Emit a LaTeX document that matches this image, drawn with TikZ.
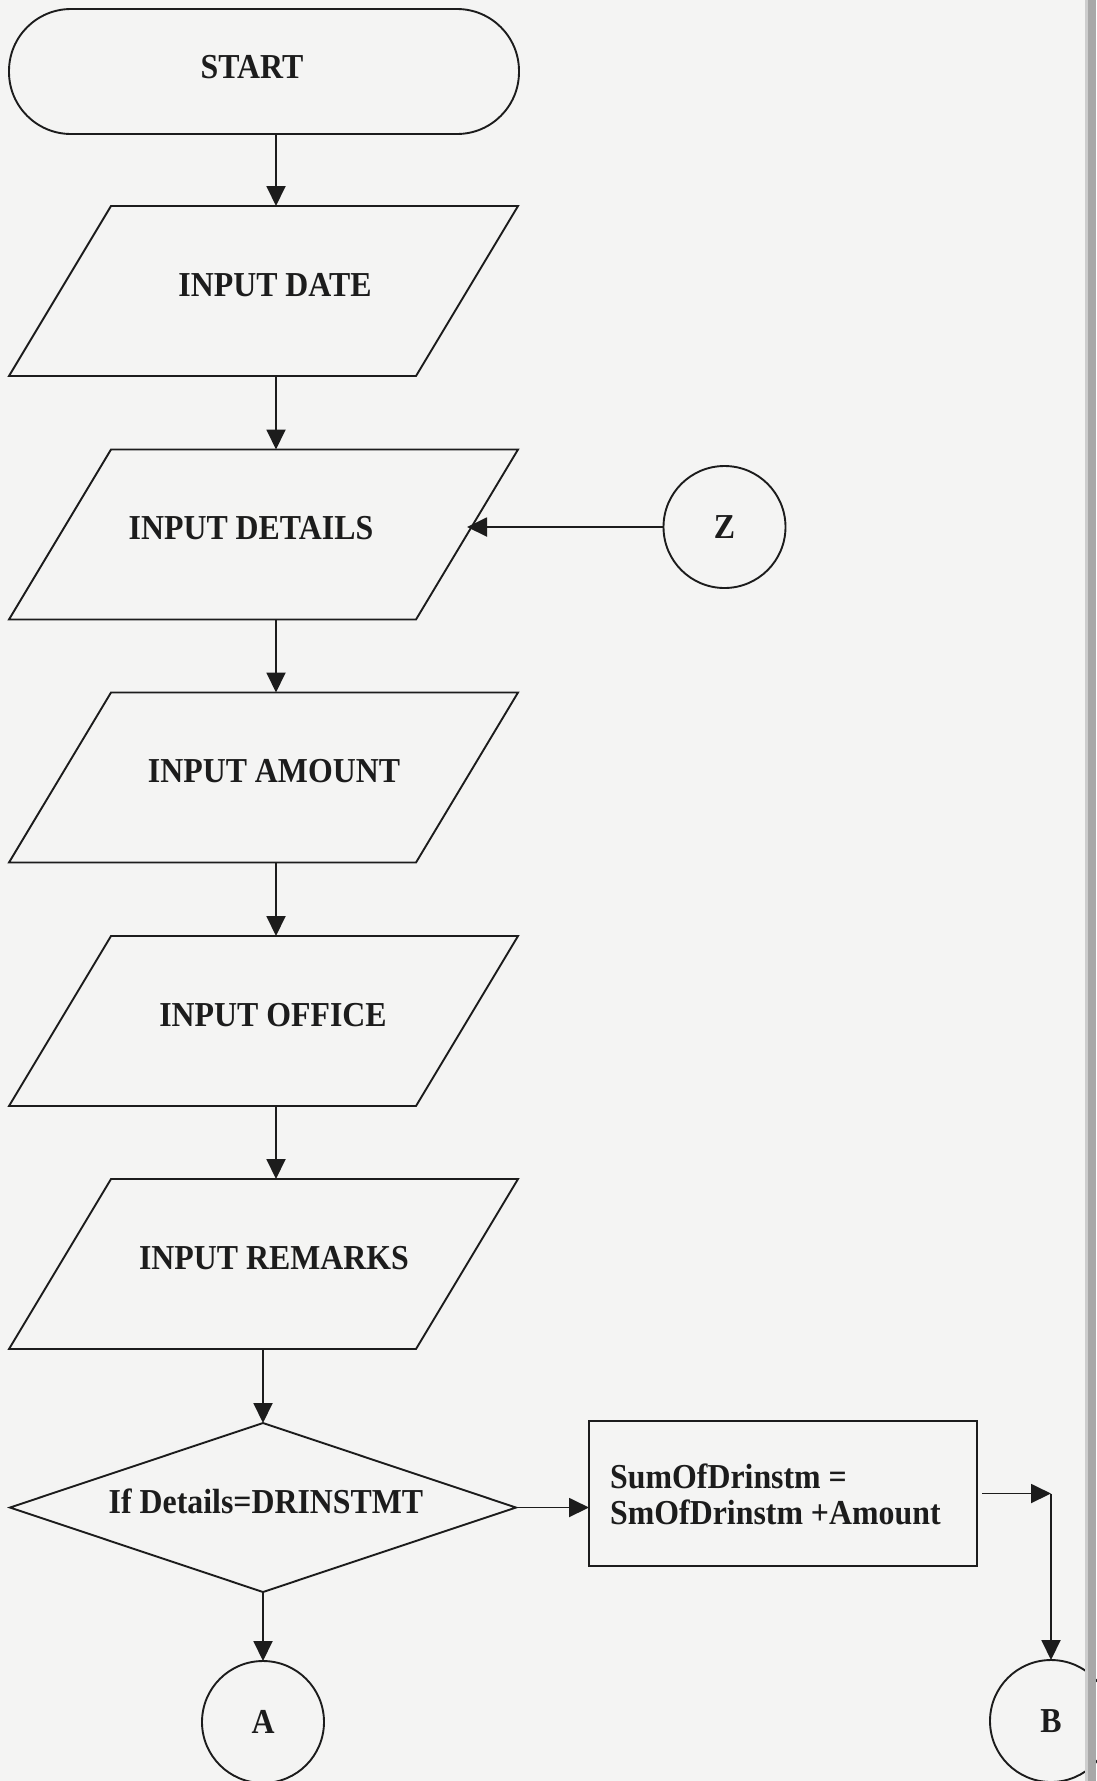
\documentclass[tikz,border=0pt]{standalone}
\usepackage{fontspec}
\setmainfont{Liberation Serif}[FakeStretch=0.91]
\usetikzlibrary{shapes.geometric,arrows.meta}
\definecolor{paper}{HTML}{F4F4F3}
\definecolor{ink}{HTML}{1C1C1C}
\definecolor{pageedge}{HTML}{A8A8A8}
\definecolor{pagefringe}{HTML}{CDCDCD}
% slanted input/output box, placed by its centre
\newcommand{\inputbox}[2]{%
  \begin{scope}[shift={#2}, xslant=0.6]
    \node[iobody, transform shape] (#1) at (0,0) {};
  \end{scope}}
\begin{document}
\begin{tikzpicture}[
  x=1pt, y=-1pt,
  outline/.style={draw=ink, line width=1.9pt, inner sep=0pt, outer sep=0pt},
  terminal/.style={outline, rectangle, rounded corners=62pt,
    minimum width=510pt, minimum height=125pt},
  iobody/.style={outline, rectangle, minimum width=407pt, minimum height=170pt},
  decision/.style={outline, diamond, minimum width=506pt, minimum height=169pt},
  process/.style={outline, rectangle, minimum width=388pt, minimum height=145pt},
  connector/.style={outline, circle, minimum size=122pt,
    font=\fontsize{35}{36}\selectfont\bfseries, text=ink},
  lbl/.style={font=\fontsize{35}{36}\selectfont\bfseries, text=ink,
    inner sep=0pt, anchor=base},
  arr/.style={draw=ink, line width=1.9pt, -{Triangle[length=20pt,width=19pt]}}
]
% paper
\fill[paper] (0,0) rectangle (1096,1781);
\useasboundingbox (0,0) rectangle (1096,1781);

% main column of the flowchart
\coordinate (col) at (276,0);

\node[terminal] (start) at (264,71.5) {};
\node[lbl] (startlbl) at (252,78) {START};

\inputbox{date}{(263.5,291)}
\node[lbl] (datelbl) at (275,296) {INPUT DATE};

\inputbox{details}{(263.5,534.5)}
\node[lbl] (detailslbl) at (251,539) {INPUT DETAILS};

\inputbox{amount}{(263.5,777.5)}
\node[lbl] (amountlbl) at (274,782) {INPUT AMOUNT};

\inputbox{office}{(263.5,1021)}
\node[lbl] (officelbl) at (273,1026) {INPUT OFFICE};

\inputbox{remarks}{(263.5,1264)}
\node[lbl] (remarkslbl) at (274,1269) {INPUT REMARKS};

\node[decision] (dec) at (263,1507.5) {};
\node[lbl] (declbl) at (266,1513) {If Details=DRINSTMT};

\node[process] (proc) at (783,1493.5) {};
\node[lbl, anchor=west, align=left] (proclbl) at (610,1494)
  {SumOfDrinstm =\\SmOfDrinstm +Amount};

\node[connector] (z) at (724.5,527) {Z};
\node[connector] (a) at (263,1722) {A};
\node[connector] (b) at (1051,1721) {B};

% flow lines
\draw[arr] (start.south -| col) -- (date.north -| col);
\draw[arr] (date.south -| col) -- (details.north -| col);
\draw[arr] (details.south -| col) -- (amount.north -| col);
\draw[arr] (amount.south -| col) -- (office.north -| col);
\draw[arr] (office.south -| col) -- (remarks.north -| col);
\draw[arr] (remarks.south -| dec.north) -- (dec.north);
\draw[arr] (z.west) -- (z.west -| details.east);
\draw[arr] (dec.east) -- (proc.west |- dec.east);
\coordinate (turn) at (b.north |- proc.east);
\draw[arr, shorten <=5pt] (proc.east) -- (turn);
\draw[arr] (turn) -- (b.north);
\draw[arr] (dec.south) -- (a.north);

% binding edge of the page
\fill[pagefringe] (1085,0) rectangle (1088,1781);
\fill[pageedge] (1088,0) rectangle (1096,1781);
\end{tikzpicture}
\end{document}
